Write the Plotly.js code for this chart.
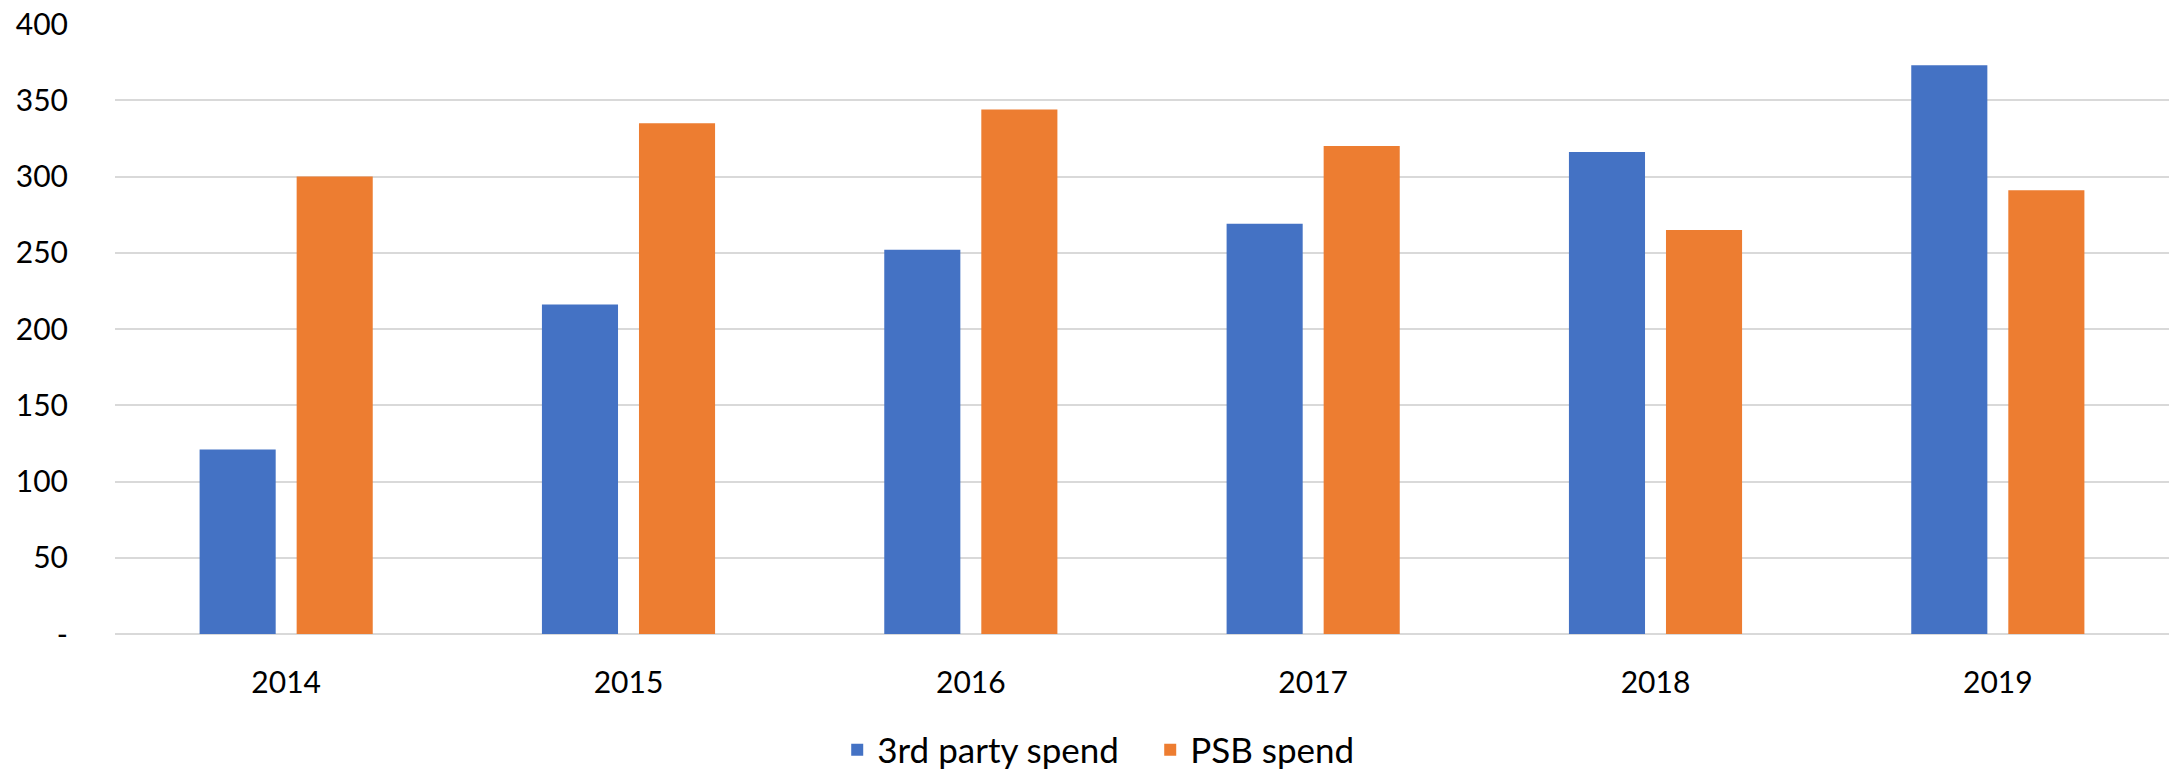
<!DOCTYPE html>
<html>
<head>
<meta charset="utf-8">
<script src="https://cdn.plot.ly/plotly-3.0.1.min.js"></script>
<style>
  html, body { margin: 0; padding: 0; background: #ffffff; }
  #chart { width: 2175px; height: 770px; }
</style>
</head>
<body>
<div id="chart"></div>
<script>
const years = ['2014', '2015', '2016', '2017', '2018', '2019'];
const thirdPartySpend = [121, 216, 252, 269, 316, 373];
const psbSpend = [300, 335, 344, 320, 265, 291];
const yTickVals = [0, 50, 100, 150, 200, 250, 300, 350, 400];
const yTickText = ['-', '50', '100', '150', '200', '250', '300', '350', '400'];

const FONT = 'Lato, "Open Sans", "Liberation Sans", sans-serif';

const traces = [
  {
    type: 'bar',
    name: '3rd party spend',
    x: years,
    y: thirdPartySpend,
    marker: { color: '#4472C4' },
    hoverinfo: 'x+y+name'
  },
  {
    type: 'bar',
    name: 'PSB spend',
    x: years,
    y: psbSpend,
    marker: { color: '#ED7D31' },
    hoverinfo: 'x+y+name'
  }
];

const layout = {
  width: 2175,
  height: 770,
  paper_bgcolor: '#ffffff',
  plot_bgcolor: '#ffffff',
  margin: { l: 115, r: 6, t: 24, b: 136, autoexpand: false },
  barmode: 'group',
  bargap: 0.433,
  bargroupgap: 0.216,
  font: { family: FONT, size: 30, color: '#000000' },
  showlegend: true,
  legend: {
    orientation: 'h',
    x: 0.504,
    xanchor: 'center',
    y: -0.19,
    yanchor: 'middle',
    entrywidth: 268,
    entrywidthmode: 'pixels',
    font: { family: FONT, size: 35, color: '#000000' },
    itemsizing: 'constant',
    traceorder: 'normal'
  },
  xaxis: {
    type: 'category',
    showgrid: false,
    showline: false,
    zeroline: false,
    ticks: 'outside',
    ticklen: 22,
    tickcolor: 'rgba(0,0,0,0)',
    tickfont: { family: FONT, size: 30, color: '#000000' }
  },
  yaxis: {
    range: [0, 400],
    tickmode: 'array',
    tickvals: yTickVals,
    ticktext: yTickText,
    showgrid: true,
    gridcolor: '#d9d9d9',
    gridwidth: 2,
    zeroline: true,
    zerolinecolor: '#d9d9d9',
    zerolinewidth: 2,
    showline: false,
    ticks: 'outside',
    ticklen: 40,
    tickcolor: 'rgba(0,0,0,0)',
    tickfont: { family: FONT, size: 30, color: '#000000' }
  }
};

Plotly.newPlot('chart', traces, layout, { displayModeBar: false, staticPlot: true });
</script>
</body>
</html>
